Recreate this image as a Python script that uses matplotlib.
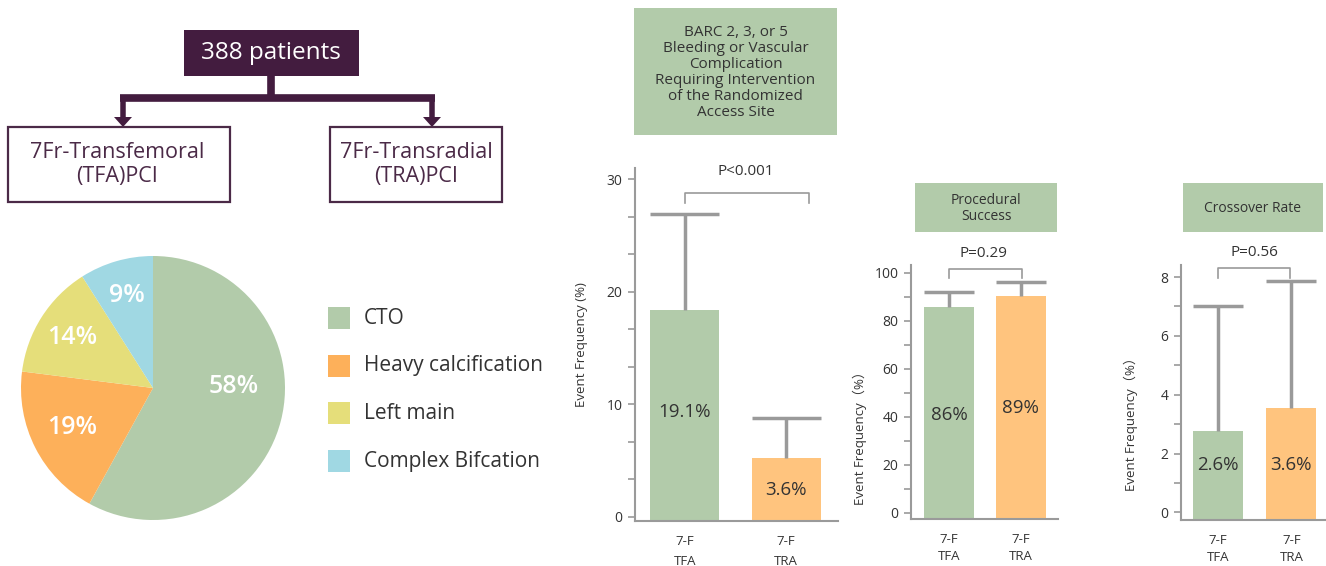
import matplotlib
matplotlib.use("Agg")
import matplotlib.pyplot as plt
from matplotlib.patches import Rectangle, FancyArrow

plt.rcParams['font.family'] = ['Open Sans', 'Noto Sans CJK SC', 'DejaVu Sans']

# ---- data ----
pie_labels = ["CTO", "Heavy calcification", "Left main", "Complex Bifcation"]
pie_values = [58, 19, 14, 9]
pie_colors = ["#B2CBAA", "#FDB05A", "#E5DE7A", "#A0D8E3"]

groups = ["7-F\nTFA", "7-F\nTRA"]
bar_colors = ["#B2CBAA", "#FFC47E"]

bleed_vals = [18.4, 5.2]
bleed_upper = [26.9, 8.8]
bleed_text = ["19.1%", "3.6%"]

proc_vals = [85.8, 90.3]
proc_upper = [91.8, 96.3]
proc_text = ["86%", "89%"]

cross_vals = [2.75, 3.56]
cross_upper = [7.03, 7.85]
cross_text = ["2.6%", "3.6%"]

W, H = 1326, 566
PURPLE = "#431C3F"
GRAY = "#9A9A9A"
DARK = "#333333"

fig = plt.figure(figsize=(W / 100, H / 100), dpi=100)

# overlay axes in pixel coordinates for boxes / flowchart / legend
ov = fig.add_axes([0, 0, 1, 1])
ov.set_xlim(0, W)
ov.set_ylim(H, 0)
ov.axis("off")

# flowchart
ov.add_patch(Rectangle((184, 30), 175, 46, facecolor=PURPLE, edgecolor="none"))
ov.text(271, 53, "388 patients", color="white", fontsize=17.5, ha="center", va="center")
ov.plot([271, 271], [76, 98], color=PURPLE, lw=5.5, solid_capstyle="butt")
ov.plot([120, 435], [98, 98], color=PURPLE, lw=5.5, solid_capstyle="butt")
for xa in [123, 432]:
    ov.add_patch(FancyArrow(xa, 96, 0, 31, width=5.5, head_width=18, head_length=10,
                            length_includes_head=True, color=PURPLE, lw=0))
ov.add_patch(Rectangle((8, 127), 222, 75, facecolor="white", edgecolor="#4B2A47", lw=1.6))
ov.text(117, 164.5, "7Fr-Transfemoral\n(TFA)PCI", color="#4B2A47", fontsize=15.5,
        ha="center", va="center", linespacing=1.2)
ov.add_patch(Rectangle((330, 127), 172, 75, facecolor="white", edgecolor="#4B2A47", lw=1.6))
ov.text(416, 164.5, "7Fr-Transradial\n(TRA)PCI", color="#4B2A47", fontsize=15.5,
        ha="center", va="center", linespacing=1.2)

# legend for pie
for i, (lab, col) in enumerate(zip(pie_labels, pie_colors)):
    yc = 318 + i * 47.7
    ov.add_patch(Rectangle((328, yc - 11), 22, 22, facecolor=col, edgecolor="none"))
    ov.text(364, yc, lab, color=DARK, fontsize=15, ha="left", va="center")

# title boxes
title_boxes = [
    ((634, 8, 203, 127), "BARC 2, 3, or 5\nBleeding or Vascular\nComplication\nRequiring Intervention\nof the Randomized\nAccess Site", 11, 1.1),
    ((915, 183, 142, 49), "Procedural\nSuccess", 10, 1.02),
    ((1183, 183, 140, 49), "Crossover Rate", 10, 1.02),
]
for (x0, y0, bw, bh), txt, fs, ls in title_boxes:
    ov.add_patch(Rectangle((x0, y0), bw, bh, facecolor="#B2CBAA", edgecolor="none"))
    ov.text(x0 + bw / 2, y0 + bh / 2 + 1, txt, color=DARK, fontsize=fs, ha="center",
            va="center", linespacing=ls)

# ---- pie ----
axp = fig.add_axes([21 / W, (H - 520) / H, 264 / W, 264 / H])
wedges, _ = axp.pie(pie_values, colors=pie_colors, startangle=90, counterclock=False,
                    wedgeprops=dict(linewidth=0))
axp.set_xlim(-1, 1)
axp.set_ylim(-1, 1)
axp.set_aspect("equal")
# label offsets (fraction of radius) as in the reference
pie_label_pos = [(0.61, 0.015), (-0.61, -0.30), (-0.61, 0.38), (-0.20, 0.70)]
for v, (lx, ly) in zip(pie_values, pie_label_pos):
    axp.text(lx, ly, f"{v}%", color="white", fontsize=18, fontweight="semibold",
             ha="center", va="center")


def bar_panel(px, vals, upper, texts, ylim, xlim, width, major, minor, label_y,
              bracket, ptext, ptext_pos, text_y, xlab_space):
    left, right, bottom, top = px
    ax = fig.add_axes([left / W, (H - bottom) / H, (right - left) / W, (bottom - top) / H])
    x = list(range(len(vals)))
    ax.bar(x, [v - ylim[0] for v in vals], bottom=ylim[0], width=width,
           color=bar_colors, edgecolor="none", zorder=2)
    ax.vlines(x, vals, upper, color=GRAY, lw=2.5, zorder=3)
    ax.hlines(upper, [xi - width / 2 for xi in x], [xi + width / 2 for xi in x],
              color=GRAY, lw=2.5, zorder=3)
    for xi, t, ty in zip(x, texts, text_y):
        ax.text(xi, ty, t, color=DARK, fontsize=13.5, ha="center", va="center", zorder=4)
    bx0, bx1, by_top, by_bot = bracket
    ax.plot([bx0, bx0, bx1, bx1], [by_bot, by_top, by_top, by_bot], color=GRAY,
            lw=1.2, clip_on=False)
    ax.text(ptext_pos[0], ptext_pos[1], ptext, color=DARK, fontsize=11, ha="center",
            va="center", clip_on=False)
    ax.set_xlim(*xlim)
    ax.set_ylim(*ylim)
    ax.set_yticks(major)
    ax.set_yticks(minor, minor=True)
    ax.set_xticks(x)
    ax.set_xticklabels(groups, linespacing=xlab_space)
    ax.tick_params(axis="y", which="both", direction="out", length=5, width=1.2,
                   color=GRAY, labelcolor=DARK, labelsize=10, pad=4)
    ax.tick_params(axis="x", length=0, labelcolor=DARK, labelsize=9.5, pad=10)
    for s in ["top", "right"]:
        ax.spines[s].set_visible(False)
    for s in ["left", "bottom"]:
        ax.spines[s].set_color(GRAY)
        ax.spines[s].set_linewidth(1.5)
    ax.set_ylabel("Event Frequency (%)" if label_y[2] else "Event Frequency（%）",
                  color=DARK, fontsize=9.5)
    ax.yaxis.set_label_coords(label_y[0], label_y[1])
    ax.patch.set_alpha(0)
    return ax


bar_panel((635, 838, 520.7, 168), bleed_vals, bleed_upper, bleed_text,
          (-0.37, 31.0), (-0.49, 1.51), 0.68, [0, 10, 20, 30],
          [10 / 3 * k for k in range(10)], (-0.23, 0.5, True),
          (0, 1.22, 28.8, 27.9), "P<0.001", (0.6, 30.7), [9.3, 2.4], 1.75)

bar_panel((911, 1058, 519, 265), proc_vals, proc_upper, proc_text,
          (-2.6, 103.2), (-0.53, 1.52), 0.7, [0, 20, 40, 60, 80, 100],
          list(range(0, 101, 10)), (-0.30, 0.33, False),
          (0, 1.02, 101.5, 97.9), "P=0.29", (0.48, 108), [40.7, 43.6], 1.45)

bar_panel((1181, 1326, 520, 265), cross_vals, cross_upper, cross_text,
          (-0.26, 8.41), (-0.5, 1.47), 0.68, [0, 2, 4, 6, 8],
          list(range(0, 9)), (-0.30, 0.39, False),
          (0, 0.98, 8.3, 7.96), "P=0.56", (0.5, 8.82), [1.6, 1.6], 1.45)

fig.savefig("out.png", dpi=100, facecolor="white")
